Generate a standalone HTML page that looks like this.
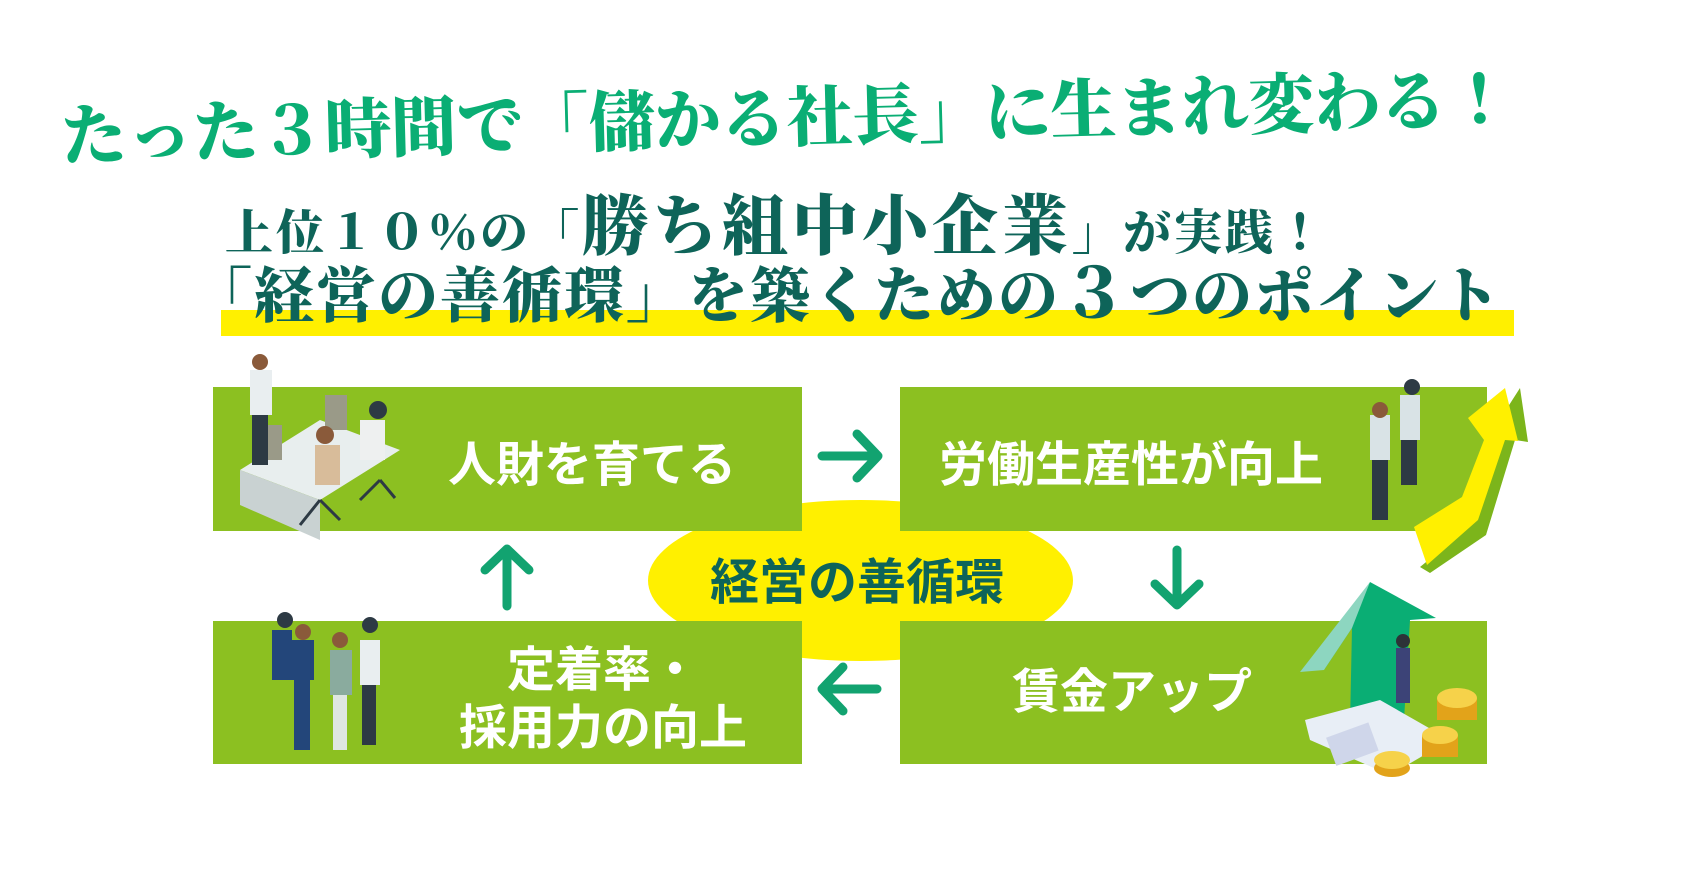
<!DOCTYPE html>
<html><head><meta charset="utf-8"><style>
html,body{margin:0;padding:0;background:#fff;}
body{width:1700px;height:881px;position:relative;overflow:hidden;font-family:"Liberation Sans","Noto Sans CJK JP",sans-serif;}
.abs{position:absolute;white-space:nowrap;}
.serif{font-family:"Liberation Serif","Noto Serif CJK JP",serif;font-weight:900;}
.box{position:absolute;background:#8cc021;}
.bt{position:absolute;color:#fff;font-weight:700;font-size:48px;line-height:54px;text-align:center;transform:translate(-50%,-50%);white-space:nowrap;font-family:"Noto Sans CJK JP",sans-serif;}
</style></head><body>

<!-- headline 1 -->
<div class="abs serif" style="left:61px;top:106px;font-size:66px;line-height:66px;letter-spacing:0px;color:#0aae74;transform-origin:0 50%;transform:rotate(-1.5deg);">たった３時間で「儲かる社長」に生まれ変わる！</div>

<!-- yellow band -->
<div class="abs" style="left:221px;top:310px;width:1293px;height:26px;background:#fff000;"></div>

<!-- line 2 -->
<div class="abs serif" style="left:225px;top:195px;color:#0e6459;line-height:66px;">
<span style="font-size:48px;letter-spacing:3px;">上位１０％の「</span><span style="font-size:66px;letter-spacing:4px;">勝ち組中小企業</span><span style="font-size:48px;letter-spacing:3px;">」が実践！</span></div>

<!-- line 3 -->
<div class="abs serif" style="left:192px;top:262px;font-size:60px;line-height:64px;letter-spacing:2px;color:#0e6459;">「経営の善循環」を築くための<span style="font-size:68px;">３</span>つのポイント</div>

<!-- ellipse -->
<div class="abs" style="left:648px;top:500px;width:425px;height:161px;border-radius:50%;background:#fff000;"></div>

<!-- boxes -->
<div class="box" style="left:213px;top:387px;width:589px;height:144px;"></div>
<div class="box" style="left:900px;top:387px;width:587px;height:144px;"></div>
<div class="box" style="left:213px;top:621px;width:589px;height:143px;"></div>
<div class="box" style="left:900px;top:621px;width:587px;height:143px;"></div>

<div class="abs" style="left:710px;top:552px;font-size:49px;line-height:54px;font-weight:700;color:#0e6459;font-family:'Noto Sans CJK JP',sans-serif;">経営の善循環</div>

<div class="bt" style="left:592px;top:460px;">人財を育てる</div>
<div class="bt" style="left:1131px;top:460px;">労働生産性が向上</div>
<div class="bt" style="left:1132px;top:687px;">賃金アップ</div>
<div class="bt" style="left:603px;top:694px;line-height:58px;">定着率・<br>採用力の向上</div>

<!-- arrows -->
<svg class="abs" style="left:0;top:0" width="1700" height="881">
<g stroke="#12a370" stroke-width="9" stroke-linecap="round" stroke-linejoin="round" fill="none">
<path d="M822 456 H877 M857 434 L878 456 L857 478"/>
<path d="M1177 550 V604 M1155 584 L1177 605 L1199 584"/>
<path d="M877 689 H822 M843 667 L822 689 L843 711"/>
<path d="M507 606 V550 M485 570 L507 549 L529 570"/>
</g>
<!-- yellow arrow top right -->
<polygon points="1520,388 1528,442 1515,440 1486,535 1430,573 1420,567 1475,522 1500,440 1488,438" fill="#7cb51b"/>
<polygon points="1505,388 1518,441 1505,440 1478,520 1427,565 1414,527 1462,497 1484,440 1468,418" fill="#fff000"/>
<!-- green arrow bottom right -->
<polygon points="1370,582 1436,618 1410,620 1404,720 1350,725 1352,628 1324,670" fill="#0aae74"/>
<polygon points="1370,582 1352,628 1324,670 1300,672" fill="#8dd6c0"/>
<!-- paper, coins -->
<polygon points="1305,720 1380,700 1450,740 1390,775 1310,740" fill="#e8eef6"/>
<rect x="1330" y="730" width="45" height="30" fill="#cfd6ea" transform="rotate(-20 1350 745)"/>
<g fill="#e2a31a"><ellipse cx="1457" cy="710" rx="20" ry="10"/><rect x="1437" y="698" width="40" height="22"/><ellipse cx="1440" cy="745" rx="18" ry="9"/><rect x="1422" y="735" width="36" height="22"/><ellipse cx="1392" cy="768" rx="18" ry="9"/></g>
<g fill="#f6d24a"><ellipse cx="1457" cy="698" rx="20" ry="10"/><ellipse cx="1440" cy="735" rx="18" ry="9"/><ellipse cx="1392" cy="760" rx="18" ry="9"/></g>
<!-- person on arrow -->
<rect x="1396" y="648" width="14" height="55" fill="#3c4377"/><circle cx="1403" cy="641" r="7" fill="#2d3338"/>
<!-- jumping people top right -->
<g fill="#d9e3e6"><rect x="1370" y="415" width="20" height="45"/><rect x="1400" y="395" width="20" height="45"/></g>
<g fill="#2d3a44"><rect x="1372" y="460" width="16" height="60"/><rect x="1401" y="440" width="16" height="45"/>
<circle cx="1380" cy="410" r="8" fill="#8a5a3a"/><circle cx="1412" cy="387" r="8"/></g>
<!-- office scene top left -->
<polygon points="240,470 320,420 400,450 320,500" fill="#e8eeee"/>
<polygon points="240,470 320,500 320,540 240,505" fill="#c9d2d2"/>
<rect x="260" y="425" width="22" height="35" fill="#9a9a88"/><rect x="325" y="395" width="22" height="35" fill="#9a9a88"/>
<rect x="250" y="370" width="22" height="45" fill="#e9eef0"/><rect x="252" y="415" width="16" height="50" fill="#2d3a44"/><circle cx="260" cy="362" r="8" fill="#8a5a3a"/>
<rect x="315" y="445" width="25" height="40" fill="#d8bc9a"/><circle cx="325" cy="435" r="9" fill="#8a5a3a"/>
<rect x="360" y="420" width="25" height="40" fill="#eef0f0"/><circle cx="378" cy="410" r="9" fill="#2d3a44"/>
<g stroke="#2d3a44" stroke-width="3"><path d="M320 500 L300 525 M320 500 L340 520 M380 480 L360 500 M380 480 L395 498"/></g>
<!-- team bottom left -->
<g fill="#23467a"><rect x="272" y="630" width="20" height="50"/><rect x="292" y="640" width="22" height="40"/><rect x="294" y="680" width="16" height="70"/></g>
<rect x="330" y="650" width="22" height="45" fill="#8aab9e"/><rect x="333" y="695" width="14" height="55" fill="#dfe6e2"/>
<rect x="360" y="640" width="20" height="45" fill="#e9eef0"/><rect x="362" y="685" width="14" height="60" fill="#2d3a44"/>
<g fill="#2d3a44"><circle cx="285" cy="620" r="8"/><circle cx="303" cy="632" r="8" fill="#8a5a3a"/><circle cx="340" cy="640" r="8" fill="#8a5a3a"/><circle cx="370" cy="625" r="8"/></g>
</svg>
</body></html>
